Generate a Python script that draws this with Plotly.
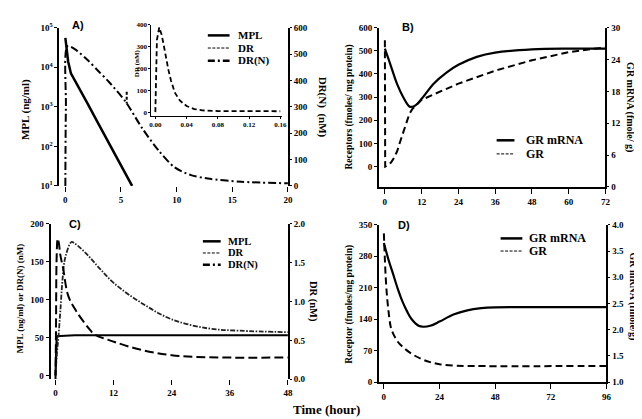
import plotly.graph_objects as go

W, H = 642, 419

# ---- Panel A: MPL (log, left), DR(N) (right), inset DR ----
a_mpl_t = [0, 0.1, 0.25, 0.5, 1, 2, 3, 4, 5, 6]
a_mpl = [55000, 30000, 14000, 7000, 4000, 1200, 360, 110, 33, 10]
a_drn_t = [0, 0.05, 0.2, 1, 2, 3, 3.9, 5.4, 6.9, 8.4, 9.8, 11.3, 12.8, 15.8, 20]
a_drn = [0, 300, 530, 514, 477, 434, 395, 320, 219, 133, 71, 41, 28, 16, 10]
inset_t = [0, 0.0005, 0.002, 0.005, 0.008, 0.0105, 0.0135, 0.0168, 0.02, 0.025,
           0.0316, 0.04, 0.05, 0.06, 0.08, 0.1, 0.16]
inset_dr = [0, 150, 330, 388, 355, 311, 250, 192, 145, 89, 52, 28, 14, 8, 5, 4, 4]
a_ticks_left = [10, 100, 1000, 10000, 100000]
a_ticktext_left = ["10<sup>1</sup>", "10<sup>2</sup>", "10<sup>3</sup>", "10<sup>4</sup>", "10<sup>5</sup>"]

# ---- Panel B: GR mRNA (right axis), GR (left axis) ----
b_mrna_t = [0, 1, 2, 4, 6, 8, 9, 10, 12, 16, 20, 24, 30, 36, 48, 60, 72]
b_mrna = [26.05, 24.4, 22.7, 19.35, 16.9, 15.15, 15.1, 15.35, 16.6, 19.5, 21.5, 23.0, 24.5, 25.3, 25.9, 26.05, 26.05]
b_gr_t = [0, 0.1, 1, 2, 3, 4, 5, 6, 7, 8, 9, 10, 12, 16, 24, 36, 48, 60, 72]
b_gr = [546, 0, 6, 17, 38, 66, 108, 150, 192, 227, 249, 263, 288, 312, 358, 414, 459, 494, 515]

# ---- Panel C: MPL, DR(N) (left), DR (right) ----
c_mpl_t = [0, 0.1, 0.25, 0.5, 1, 4, 48]
c_mpl = [0, 40, 50, 52, 52, 53, 53]
c_drn_t = [0, 0.3, 0.6, 1, 1.5, 2, 3.3, 4, 6.3, 9, 12.2, 17.9, 24, 31.5, 38, 48]
c_drn = [0, 30, 50, 85, 130, 155, 176, 174, 161, 142, 121, 95, 74, 62, 59, 57]
c_dr_t = [0, 0.1, 0.25, 0.45, 0.7, 1, 1.6, 2.6, 4.3, 7, 8, 12.2, 17.9, 24, 31.5, 48]
c_dr = [0, 0.6, 1.6, 1.81, 1.75, 1.6, 1.42, 1.08, 0.875, 0.646, 0.58, 0.48, 0.375, 0.31, 0.283, 0.28]

# ---- Panel D: GR mRNA (right), GR (left) ----
d_mrna_t = [0, 2, 4, 6, 8, 10, 12, 15, 17, 20, 24, 30, 36, 42, 48, 60, 96]
d_mrna = [3.655, 3.335, 3.06, 2.78, 2.54, 2.35, 2.20, 2.075, 2.057, 2.075, 2.155, 2.29, 2.37, 2.41, 2.426, 2.43, 2.43]
d_gr_t = [0, 1, 2, 3, 4, 6, 8, 12, 16, 20, 24, 30, 36, 96]
d_gr = [331, 215, 158, 122, 108, 90, 79, 63, 52, 44.5, 40, 37, 36, 36]


def fx(px):
    return px / W


def fy(px):
    return 1 - px / H


SERIF = "Liberation Serif"
tick_font = dict(family=SERIF, size=9, color="black", weight="bold")

fig = go.Figure()

# Panel A
fig.add_trace(go.Scatter(x=a_mpl_t, y=a_mpl, xaxis="x", yaxis="y", mode="lines",
                         line=dict(color="black", width=2.5)))
fig.add_trace(go.Scatter(x=a_drn_t, y=a_drn, xaxis="x", yaxis="y2", mode="lines",
                         line=dict(color="black", width=2, dash="8px,3px,2px,3px",
                                   shape="spline", smoothing=0.8)))
fig.add_trace(go.Scatter(x=inset_t, y=inset_dr, xaxis="x2", yaxis="y3", mode="lines",
                         line=dict(color="black", width=1.8, dash="5px,3px")))
# Panel B
fig.add_trace(go.Scatter(x=b_mrna_t, y=b_mrna, xaxis="x3", yaxis="y5", mode="lines",
                         line=dict(color="black", width=2.2, shape="spline")))
fig.add_trace(go.Scatter(x=b_gr_t, y=b_gr, xaxis="x3", yaxis="y4", mode="lines",
                         line=dict(color="black", width=2, dash="7px,4px")))
# Panel C
fig.add_trace(go.Scatter(x=c_mpl_t, y=c_mpl, xaxis="x4", yaxis="y6", mode="lines",
                         line=dict(color="black", width=2.2)))
fig.add_trace(go.Scatter(x=c_drn_t, y=c_drn, xaxis="x4", yaxis="y6", mode="lines",
                         line=dict(color="#222", width=1.8, dash="5px,1.5px,1.5px,1.5px", shape="spline")))
fig.add_trace(go.Scatter(x=c_dr_t, y=c_dr, xaxis="x4", yaxis="y7", mode="lines",
                         line=dict(color="black", width=2, dash="9px,4px", shape="spline")))
# Panel D
fig.add_trace(go.Scatter(x=d_mrna_t, y=d_mrna, xaxis="x5", yaxis="y9", mode="lines",
                         line=dict(color="black", width=2.2, shape="spline")))
fig.add_trace(go.Scatter(x=d_gr_t, y=d_gr, xaxis="x5", yaxis="y8", mode="lines",
                         line=dict(color="black", width=2, dash="7px,4px", shape="spline")))

ax = dict(showgrid=False, zeroline=False, ticks="outside", ticklen=3, tickwidth=1,
          tickcolor="black", linecolor="black", tickfont=tick_font)
small_font = dict(family=SERIF, size=7, color="black", weight="bold")

fig.update_layout(
    width=W, height=H, margin=dict(l=0, r=0, t=0, b=0),
    paper_bgcolor="white", plot_bgcolor="rgba(0,0,0,0)", showlegend=False,
    # A
    xaxis=dict(ax, domain=[fx(50), fx(281)], range=[-0.53, 20], anchor="y",
               tickvals=[0, 5, 10, 15, 20], showline=False, ticklen=5),
    yaxis=dict(ax, type="log", domain=[fy(176), fy(13)], range=[1, 5], anchor="x",
               tickvals=a_ticks_left, ticktext=a_ticktext_left, showline=True, linewidth=2),
    yaxis2=dict(ax, overlaying="y", side="right", anchor="x", range=[0, 600], dtick=100,
                showline=True, linewidth=2, ticklen=2),
    # inset
    xaxis2=dict(ax, domain=[fx(143), fx(275)], range=[-0.005, 0.1622], anchor="y3",
                tickvals=[0, 0.04, 0.08, 0.12, 0.16],
                ticktext=["0.00", "0.04", "0.08", "0.12", "0.16"],
                showline=True, linewidth=1, ticklen=2, tickfont=small_font),
    yaxis3=dict(ax, domain=[fy(104), fy(10)], range=[-17.8, 400], anchor="x2",
                dtick=100, showline=True, linewidth=1, ticklen=2, tickfont=small_font),
    # B
    xaxis3=dict(ax, domain=[fx(373), fx(602)], range=[-1.94, 72], anchor="y4",
                dtick=12, showline=True, linewidth=2, ticklen=5),
    yaxis4=dict(ax, domain=[fy(177), fy(13)], range=[-88, 600], anchor="x3",
                tickvals=[0, 100, 200, 300, 400, 500, 600], showline=True, linewidth=2),
    yaxis5=dict(ax, overlaying="y4", side="right", anchor="x3", range=[0, 30], dtick=6,
                showline=True, linewidth=2, ticklen=2),
    # C
    xaxis4=dict(ax, domain=[fx(41), fx(281)], range=[-1.02, 48], anchor="y6",
                dtick=12, showline=False, ticklen=5),
    yaxis6=dict(ax, domain=[fy(375), fy(215)], range=[-5.1, 200], anchor="x4",
                dtick=50, showline=True, linewidth=2),
    yaxis7=dict(ax, overlaying="y6", side="right", anchor="x4", range=[0, 2], dtick=0.5,
                tickformat=".1f", showline=True, linewidth=2, ticklen=2),
    # D
    xaxis5=dict(ax, domain=[fx(373), fx(603)], range=[-2.13, 96], anchor="y8",
                dtick=24, showline=True, linewidth=2, ticklen=5),
    yaxis8=dict(ax, domain=[fy(378), fy(216)], range=[0, 350], anchor="x5",
                dtick=70, showline=True, linewidth=2),
    yaxis9=dict(ax, overlaying="y8", side="right", anchor="x5", range=[1, 4], dtick=0.5,
                tickformat=".1f", showline=True, linewidth=2, ticklen=2),
)


def label(text, x, y, size, angle=0, family=SERIF, anchor="center"):
    fig.add_annotation(text=text, x=fx(x), y=fy(y), xref="paper", yref="paper",
                       showarrow=False, textangle=angle, xanchor=anchor, yanchor="middle",
                       font=dict(family=family, size=size, color="black", weight="bold"))


# axis titles
label("MPL (ng/ml)", 15, 97, 11, -90)
label("DR(N)  (nM)", 316, 95, 11, 90)
label("DR (nM)", 128, 50, 7, -90)
label("Receptors (fmoles/ mg protein)", 343, 95, 9.5, -90)
label("GR mRNA (fmole/ g)", 627, 95, 10, 90)
label("MPL (ng/ml) or DR(N) (nM)", 10, 292, 9, -90)
label("DR (nM)", 307, 295, 10.5, 90)
label("Receptor (fmoles/mg protein)", 343, 298, 9.5, -90)
label("GR mRNA (fmole/g)", 630, 290, 10, 90)
label("Time (hour)", 320, 406, 13)

# panel letters
for txt, x, y in [("A)", 69, 10), ("B)", 402, 12), ("C)", 66, 215), ("D)", 398, 216)]:
    label(txt, x, y, 11, family="Liberation Sans")


def key(x0, x1, y, width, dash, text, tx, size=11):
    fig.add_shape(type="line", xref="paper", yref="paper", x0=fx(x0), x1=fx(x1),
                  y0=fy(y), y1=fy(y), line=dict(color="black", width=width, dash=dash))
    label(text, tx, y, size, anchor="left")


# legends
key(200, 222, 21, 2.5, "solid", "MPL", 228)
key(200, 222, 34, 1, "3px,1.5px", "DR", 228)
key(200, 222, 47, 2.5, "7px,3px,2px,3px", "DR(N)", 228)
key(492, 510, 129, 2.5, "solid", "GR mRNA", 520, 12)
key(492, 510, 143, 1, "3px,1.5px", "GR", 520, 12)
key(195, 213, 233, 2.5, "solid", "MPL", 218, 10.5)
key(195, 213, 245, 1, "3px,1.5px", "DR", 218, 10.5)
key(195, 213, 257, 2.5, "7px,3px,2px,3px", "DR(N)", 218, 10.5)
key(496, 518, 230, 2.5, "solid", "GR mRNA", 523, 12)
key(496, 518, 243, 1, "3px,1.5px", "GR", 523, 12)

# small dashed mark below the inset axis title
fig.add_shape(type="line", xref="paper", yref="paper", x0=fx(118), x1=fx(118),
              y0=fy(79), y1=fy(91), line=dict(color="black", width=2, dash="3px,2px"))

fig.write_html("out.html")
